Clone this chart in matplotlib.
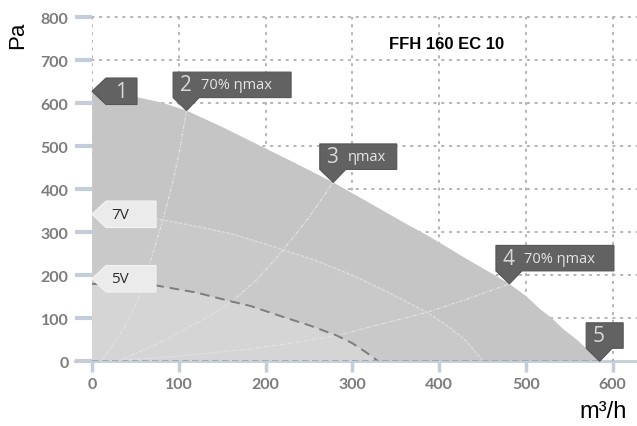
import numpy as np
import matplotlib.pyplot as plt
from matplotlib.patches import Polygon

# fan curve data (m3/h, Pa)
max_q = [0, 25, 50, 80, 109, 150, 197, 240, 278, 320, 360, 389, 430, 460, 481, 500, 516, 530, 543, 560, 574, 585]
max_p = [625, 622, 615, 602, 583, 545, 498, 455, 416, 368, 322, 290, 240, 205, 180, 152, 122, 100, 75, 48, 21, 0]

v7_q = [0, 40, 75, 120, 160, 218, 260, 300, 340, 386, 410, 430, 451]
v7_p = [342, 338, 331, 314, 297, 261, 233, 200, 162, 114, 82, 50, 0]

v5_q = [0, 40, 75, 120, 161, 182, 222, 250, 282, 300, 315, 330]
v5_p = [180, 179, 176, 160, 139, 129, 102, 84, 60, 42, 22, 0]

# system curves (70% eta max, eta max, 70% eta max)
sys2_q = [12, 17, 30, 42, 53, 67, 82, 94, 100, 109]
sys2_p = [0, 17, 55, 95, 145, 230, 331, 424, 480, 583]
sys3_q = [28, 50, 80, 107, 135, 161, 190, 220, 250, 278]
sys3_p = [0, 18, 45, 75, 105, 139, 190, 258, 335, 416]
sys4_q = [15, 60, 100, 140, 182, 222, 282, 330, 386, 430, 481]
sys4_p = [0, 6, 12, 20, 29, 40, 60, 85, 114, 143, 180]

xticks = [0, 100, 200, 300, 400, 500, 600]
yticks = [0, 100, 200, 300, 400, 500, 600, 700, 800]

# callouts: (q, p, big text, small text, box width px)
points = [(109, 583, "2", "70% ηmax", 118),
          (278, 416, "3", "ηmax", 77),
          (481, 180, "4", "70% ηmax", 118),
          (585, 0, "5", "", 37)]

W, H = 637, 427
fig = plt.figure(figsize=(W / 100, H / 100), dpi=100)
ax = fig.add_axes([92 / W, (H - 362.3) / H, (W - 92) / W, 344 / H])
ax.set_xlim(0, 628)
ax.set_ylim(0, 800)

grid_kw = dict(color='#b3b3b3', lw=1.4, linestyle=(0, (0.8, 3.2)), dash_capstyle='round', zorder=1)
for x in xticks:
    ax.plot([x, x], [0, 800], **grid_kw)
for y in yticks[1:]:
    ax.plot([0, 628], [y, y], clip_on=False, **grid_kw)

ax.fill(np.r_[0, max_q], np.r_[0, max_p], color='#c5c5c5', lw=0, zorder=2)
ax.fill(np.r_[0, v7_q], np.r_[0, v7_p], color='#c9c9c9', lw=0, zorder=2)
ax.fill(np.r_[0, v5_q], np.r_[0, v5_p], color='#d5d5d5', lw=0, zorder=2)

ax.plot([0, 0], [0, 625], **dict(grid_kw, zorder=3, color='#d0d0d0'))

sys_kw = dict(color='#e2e2e2', lw=0.9, linestyle=(0, (3, 1.2, 1, 1.2)), zorder=3)
ax.plot(sys2_q, sys2_p, **sys_kw)
ax.plot(sys3_q, sys3_p, **sys_kw)
ax.plot(sys4_q, sys4_p, **sys_kw)
ax.plot(v7_q, v7_p, color='#dcdcdc', lw=1.0, linestyle=(0, (2.5, 1)), zorder=3)
ax.plot(v5_q, v5_p, color='#7d7d7d', lw=1.4, linestyle=(0, (5, 3)), zorder=3)
ax.plot([0, 585], [0, 0], color='#9aa6b2', lw=1.2, linestyle=(0, (4, 2)), zorder=4)

for s in ['top', 'right', 'left']:
    ax.spines[s].set_visible(False)
ax.spines['bottom'].set_color('#c3ceda')
ax.spines['bottom'].set_linewidth(2)
ax.spines['bottom'].set_bounds(-20, 628)
ax.spines['bottom'].set_zorder(0.5)

ax.set_xticks(xticks)
ax.set_yticks(yticks)
ax.tick_params(axis='y', length=12, width=3, color='#c3ceda', pad=5,
               labelsize=11.5, labelcolor='#7c7c7c')
ax.tick_params(axis='x', length=8, width=2.5, color='#c3ceda', pad=3,
               labelsize=11.5, labelcolor='#7c7c7c')
for lab in ax.get_xticklabels() + ax.get_yticklabels():
    lab.set_fontfamily('Lato')
    lab.set_fontweight('bold')

ax.text(409, 740, "FFH 160 EC 10", family='Liberation Sans', weight='bold',
        fontsize=12, ha='center', va='center')
fig.text(18 / W, 1 - 35 / H, "Pa", rotation=90, fontsize=16, ha='center', va='center',
         family='Liberation Sans')
fig.text(603 / W, 1 - 412 / H, "m³/h", fontsize=17, ha='center', va='center',
         family='Liberation Sans')

fig.canvas.draw()
to_px = ax.transData.transform
dark = '#626262'


def down_callout(q, p, big, small, w):
    tx, ty = to_px((q, p))
    left, bottom, h = tx - 13.5, ty + 13, 25.5
    pts = [(left, bottom), (left, bottom + h), (left + w, bottom + h), (left + w, bottom),
           (left + 26, bottom), (tx, ty), (left, bottom)]
    fig.patches.append(Polygon(pts, closed=True, transform=None, facecolor=dark,
                               edgecolor='#555555', lw=0.8, zorder=10))
    fig.text(left + 12.5, bottom + h / 2, big, transform=None, fontsize=15, color='#d9d9d9',
             ha='center', va='center', family='Open Sans', zorder=11)
    if small:
        fig.text(left + 28, bottom + h / 2, small, transform=None, fontsize=10.5,
                 color='#e6e6e6', ha='left', va='center', family='Open Sans', zorder=11)


def left_callout(q, p, text, w, face, tcolor, size, tx_off):
    tx, ty = to_px((q, p))
    h = 26.5
    pts = [(tx, ty), (tx + 14, ty + h / 2), (tx + w, ty + h / 2), (tx + w, ty - h / 2),
           (tx + 14, ty - h / 2)]
    fig.patches.append(Polygon(pts, closed=True, transform=None, facecolor=face,
                               edgecolor='#f4f4f4' if face != dark else '#555555',
                               lw=0.8, zorder=10))
    fig.text(tx + tx_off, ty, text, transform=None, fontsize=size, color=tcolor,
             ha='center', va='center', family='Open Sans', zorder=11)


left_callout(0, 628, "1", 45, dark, '#d9d9d9', 15, 29)
left_callout(0, 342, "7V", 64, '#ebebeb', '#2e2e2e', 11, 28)
left_callout(0, 192, "5V", 64, '#ebebeb', '#2e2e2e', 11, 28)
for q, p, big, small, w in points:
    down_callout(q, p, big, small, w)

fig.savefig("out.png", dpi=100)
